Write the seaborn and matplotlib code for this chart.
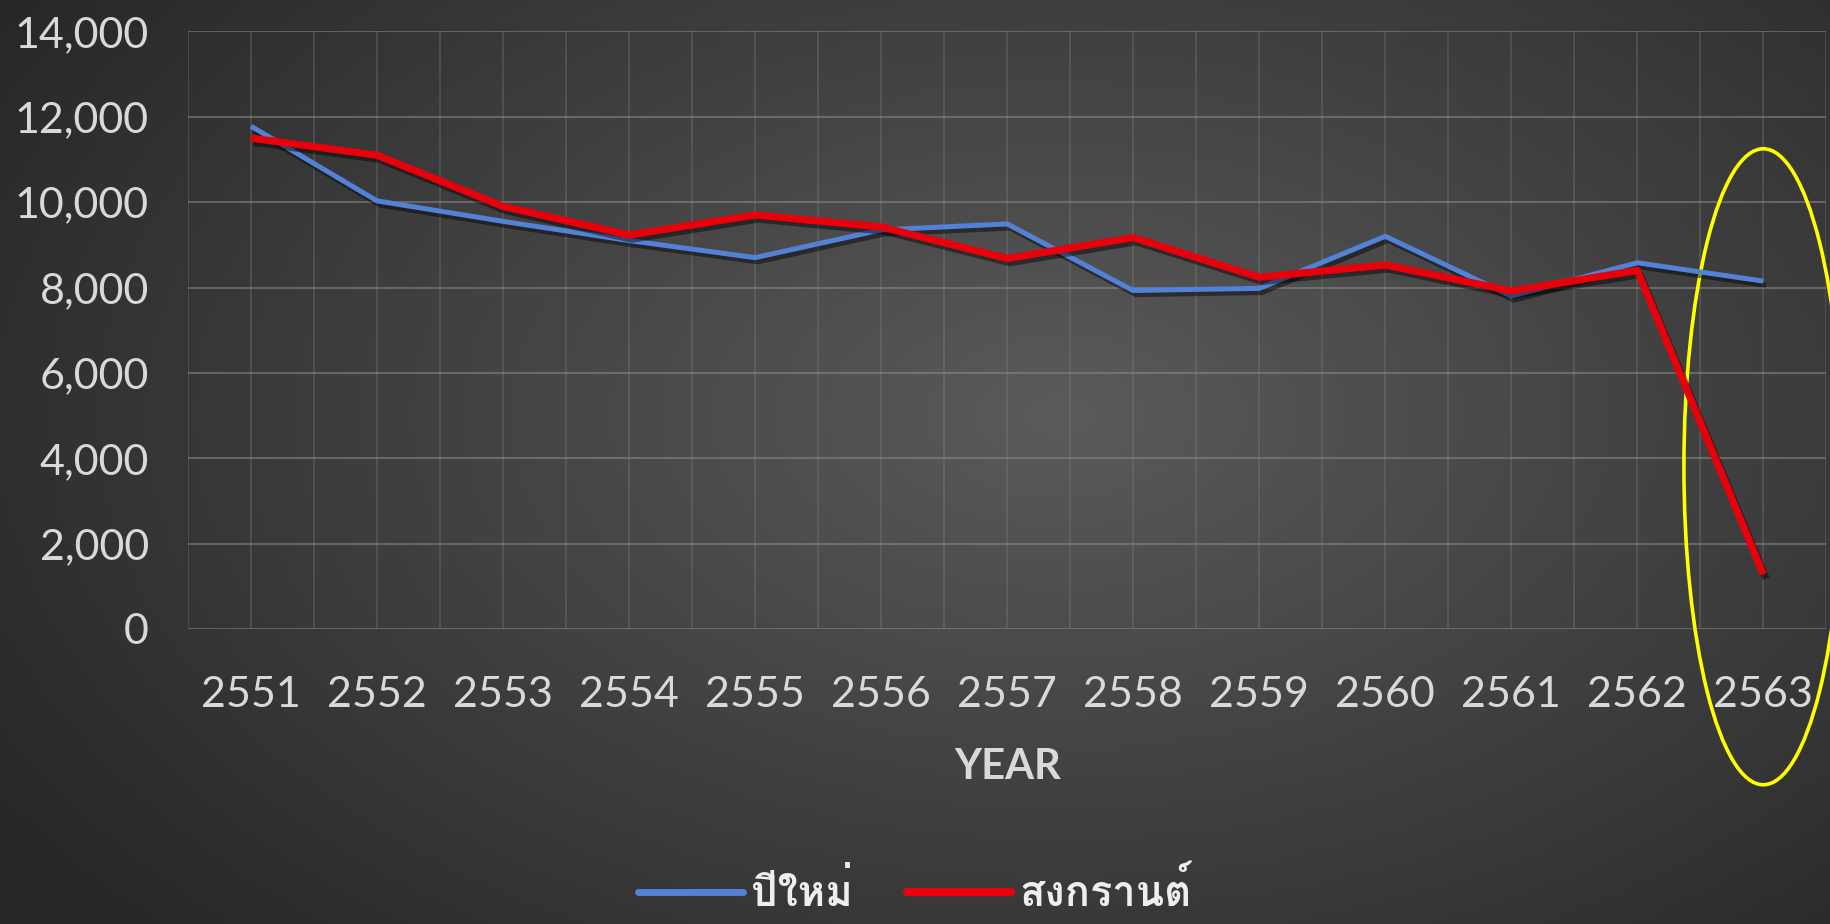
import numpy as np
import pandas as pd
import seaborn as sns
import matplotlib.pyplot as plt
from matplotlib.patches import Ellipse
from matplotlib import patheffects as pe

# ข้อมูลอ่านจากภาพ
years = ["2551", "2552", "2553", "2554", "2555", "2556", "2557",
         "2558", "2559", "2560", "2561", "2562", "2563"]
new_year = [11780, 10030, 9550, 9100, 8700, 9350, 9490,
            7930, 7980, 9200, 7800, 8580, 8150]
songkran = [11500, 11100, 9900, 9230, 9700, 9420, 8680,
            9170, 8240, 8530, 7920, 8400, 1280]
series_names = ["ปีใหม่", "สงกรานต์"]
y_ticks = [0, 2000, 4000, 6000, 8000, 10000, 12000, 14000]

df = pd.DataFrame({
    "year": years * 2,
    "value": new_year + songkran,
    "series": [series_names[0]] * len(years) + [series_names[1]] * len(years),
})

sns.set_theme(style="dark")
plt.rcParams["font.family"] = ["Lato", "DejaVu Sans"]

fig = plt.figure(figsize=(18.3, 9.24), dpi=100)

# พื้นหลังไล่เฉดแบบ Excel
bg = fig.add_axes([0, 0, 1, 1], zorder=-10)
xx, yy = np.meshgrid(np.linspace(0, 1, 400), np.linspace(0, 1, 200))
r = np.sqrt(((xx - 0.58) / 0.75) ** 2 + ((yy - 0.45) / 0.9) ** 2)
shade = np.clip(0.355 - 0.22 * r, 0.15, 0.355)
bg.imshow(np.dstack([shade] * 3), aspect="auto", extent=[0, 1, 0, 1])
bg.axis("off")

ax = fig.add_axes([0.1027, 0.3193, 0.8953, 0.6467])
ax.set_facecolor("none")

sns.lineplot(data=df, x="year", y="value", hue="series",
             palette=["#5281d6", "#e8000b"], sort=False, ax=ax, legend=False)
shadow = [pe.SimpleLineShadow(offset=(2, -3), shadow_color="black", alpha=0.45),
          pe.Normal()]
for line, lw in zip(ax.get_lines(), [3.6, 5.2]):
    line.set_linewidth(lw)
    line.set_path_effects(shadow)
    line.set_solid_capstyle("butt")

ax.set_xlim(-0.5, len(years) - 0.5)
ax.set_ylim(0, 14000)
ax.set_yticks(y_ticks)
ax.set_yticklabels([f"{v:,}" for v in y_ticks])
ax.set_xticks(np.arange(-0.5, len(years), 1.0), minor=True)
ax.grid(True, which="major", axis="y", color="#8a8a8a", alpha=0.55, lw=1.5)
ax.grid(True, which="both", axis="x", color="#8a8a8a", alpha=0.32, lw=1.2)
for s in ax.spines.values():
    s.set_visible(False)
ax.tick_params(axis="both", which="both", length=0, colors="#d9d9d9",
               labelsize=31)
ax.tick_params(axis="x", pad=34)
ax.tick_params(axis="y", pad=28)
ax.set_xlabel("YEAR", color="#d9d9d9", fontsize=30, fontweight="bold",
              labelpad=24)
ax.set_ylabel("")

# วงรีสีเหลืองเน้นปี 2563
ax.add_patch(Ellipse((len(years) - 1, 3800), width=1.26, height=14900,
                     fill=False, edgecolor="#ffff00", lw=2.6, clip_on=False))

handles = [plt.Line2D([], [], color="#5281d6", lw=5),
           plt.Line2D([], [], color="#e8000b", lw=6)]
leg = fig.legend(handles, series_names, loc="center", ncol=2,
                 bbox_to_anchor=(0.5, 0.035), frameon=False, handlelength=2.5,
                 handletextpad=0.2, columnspacing=1.3,
                 prop={"family": ["Loma", "DejaVu Sans"], "size": 30,
                       "weight": "bold"})
for t in leg.get_texts():
    t.set_color("#eeeeee")

fig.savefig("out.png", dpi=100)
